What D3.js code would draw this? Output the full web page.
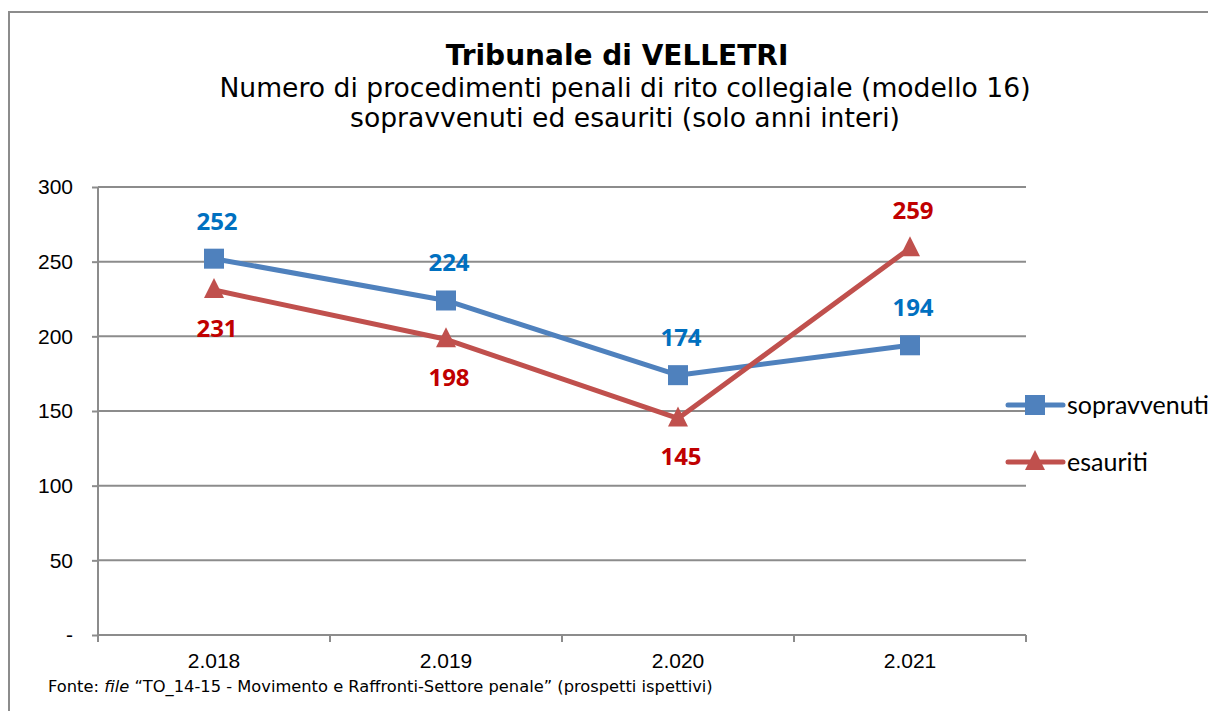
<!DOCTYPE html>
<html>
<head>
<meta charset="utf-8">
<script src="https://cdn.jsdelivr.net/npm/d3@7"></script>
<style>
    html, body { margin: 0; padding: 0; background: #fff; overflow: hidden; }
    svg { display: block; }
</style>
</head>
<body>
<div id="chart"></div>
<script>
// Chart data
const years = ['2.018', '2.019', '2.020', '2.021'];
const sopravvenuti = [252, 224, 174, 194];
const esauriti = [231, 198, 145, 259];
const yTicks = [0, 50, 100, 150, 200, 250, 300];
// where each value label sits relative to its point
const sopravLabelPos = ['above', 'above', 'above', 'above'];
const esauritiLabelPos = ['below', 'below', 'below', 'above'];

const width = 1208, height = 711;
const plot = {left: 98, right: 1026, top: 187, bottom: 635};

const svg = d3.select('#chart')
    .append('svg')
    .attr('width', width)
    .attr('height', height);

// Outer frame (runs past the right and bottom edges)
svg.append('rect')
    .attr('x', 9).attr('y', 12)
    .attr('width', 1300).attr('height', 800)
    .attr('fill', 'none')
    .attr('stroke', '#8c8c8c')
    .attr('stroke-width', 2);

// Title
const title = svg.append('g').attr('text-anchor', 'middle').attr('fill', '#000');
title.append('text')
    .attr('x', 617).attr('y', 65)
    .style('font-family', 'DejaVu Sans, sans-serif')
    .style('font-weight', 'bold')
    .style('font-size', '28px')
    .text('Tribunale di VELLETRI');
title.append('text')
    .attr('x', 625).attr('y', 97)
    .style('font-family', 'DejaVu Sans, sans-serif')
    .style('font-size', '26.6px')
    .text('Numero di procedimenti penali di rito collegiale (modello 16)');
title.append('text')
    .attr('x', 625).attr('y', 127)
    .style('font-family', 'DejaVu Sans, sans-serif')
    .style('font-size', '26.6px')
    .text('sopravvenuti ed esauriti (solo anni interi)');

// Scales
const x = d3.scaleBand()
    .domain(years)
    .range([plot.left, plot.right]);

const y = d3.scaleLinear()
    .domain([0, 300])
    .range([plot.bottom, plot.top]);

// Gridlines
svg.append('g')
    .selectAll('line')
    .data(yTicks.filter(d => d > 0))
    .enter()
    .append('line')
    .attr('x1', plot.left).attr('x2', plot.right)
    .attr('y1', d => y(d)).attr('y2', d => y(d))
    .attr('stroke', '#8c8c8c')
    .attr('stroke-width', 2);

// Y axis
const yAxis = svg.append('g')
    .attr('transform', `translate(${plot.left},0)`)
    .call(d3.axisLeft(y)
        .tickValues(yTicks)
        .tickSize(6)
        .tickPadding(19)
        .tickFormat(d => d === 0 ? '-' : d));
yAxis.select('.domain').attr('stroke', '#8c8c8c').attr('stroke-width', 2).attr('d', `M0,${plot.top}V${plot.bottom + 6}`);
yAxis.selectAll('.tick line').attr('stroke', '#8c8c8c').attr('stroke-width', 2);
yAxis.selectAll('.tick text')
    .attr('fill', '#000')
    .style('font-family', 'Liberation Sans, Arial, sans-serif')
    .style('font-size', '21px');

// X axis
const xAxis = svg.append('g')
    .attr('transform', `translate(0,${plot.bottom})`)
    .call(d3.axisBottom(x).tickSize(0).tickPadding(18));
xAxis.select('.domain').attr('stroke', '#8c8c8c').attr('stroke-width', 2).attr('d', `M${plot.left},0H${plot.right}`);
xAxis.selectAll('.tick text')
    .attr('fill', '#000')
    .style('font-family', 'Liberation Sans, Arial, sans-serif')
    .style('font-size', '21px');
// category boundary ticks
xAxis.append('g')
    .selectAll('line')
    .data(years.concat(['end']))
    .enter()
    .append('line')
    .attr('x1', (d, i) => i < years.length ? x(d) : x(years[years.length - 1]) + x.bandwidth())
    .attr('x2', (d, i) => i < years.length ? x(d) : x(years[years.length - 1]) + x.bandwidth())
    .attr('y1', 0).attr('y2', 7)
    .attr('stroke', '#8c8c8c')
    .attr('stroke-width', 2);

const cx = d => x(d) + x.bandwidth() / 2;

const series = [
    {name: 'sopravvenuti', values: sopravvenuti, pos: sopravLabelPos, line: '#4f81bd', label: '#0070c0', marker: 'square'},
    {name: 'esauriti', values: esauriti, pos: esauritiLabelPos, line: '#c0504d', label: '#c00000', marker: 'triangle'}
];

const line = d3.line()
    .x(d => cx(d.year))
    .y(d => y(d.value));

function drawMarker(g, type, color) {
    if (type === 'square') {
        g.append('rect')
            .attr('x', -10).attr('y', -10)
            .attr('width', 20).attr('height', 20)
            .attr('fill', color);
    } else {
        g.append('path')
            .attr('d', 'M0,-12L10,8L-10,8Z')
            .attr('fill', color);
    }
}

series.forEach(s => {
    const pts = years.map((yr, i) => ({year: yr, value: s.values[i], pos: s.pos[i]}));

    svg.append('path')
        .datum(pts)
        .attr('d', line)
        .attr('fill', 'none')
        .attr('stroke', s.line)
        .attr('stroke-width', 5)
        .attr('stroke-linejoin', 'round');

    pts.forEach(p => {
        const g = svg.append('g').attr('transform', `translate(${cx(p.year)},${y(p.value)})`);
        drawMarker(g, s.marker, s.line);
    });

    svg.append('g')
        .selectAll('text')
        .data(pts)
        .enter()
        .append('text')
        .attr('x', d => cx(d.year) + 3)
        .attr('y', d => d.pos === 'above' ? y(d.value) - 29 : y(d.value) + 47)
        .attr('text-anchor', 'middle')
        .attr('fill', s.label)
        .style('font-family', 'Open Sans, sans-serif')
        .style('font-weight', 'bold')
        .style('font-size', '24px')
        .text(d => d.value);
});

// Legend
const legend = svg.append('g');
series.forEach((s, i) => {
    const ly = 405 + i * 57;
    legend.append('line')
        .attr('x1', 1008).attr('x2', 1063)
        .attr('y1', ly).attr('y2', ly)
        .attr('stroke', s.line)
        .attr('stroke-width', 5)
        .attr('stroke-linecap', 'round');
    const g = legend.append('g').attr('transform', `translate(1035,${ly})`);
    drawMarker(g, s.marker, s.line);
    legend.append('text')
        .attr('x', 1067).attr('y', ly + 9)
        .attr('fill', '#000')
        .style('font-family', 'Lato, sans-serif')
        .style('font-size', '25px')
        .text(s.name);
});

// Source note
const note = svg.append('text')
    .attr('x', 48).attr('y', 692)
    .attr('fill', '#000')
    .style('font-family', 'DejaVu Sans, sans-serif')
    .style('font-size', '16.3px');
note.append('tspan').text('Fonte: ');
note.append('tspan').style('font-style', 'italic').text('file');
note.append('tspan').text(' \u201CTO_14-15 - Movimento e Raffronti-Settore penale\u201D (prospetti ispettivi)');
</script>
</body>
</html>
